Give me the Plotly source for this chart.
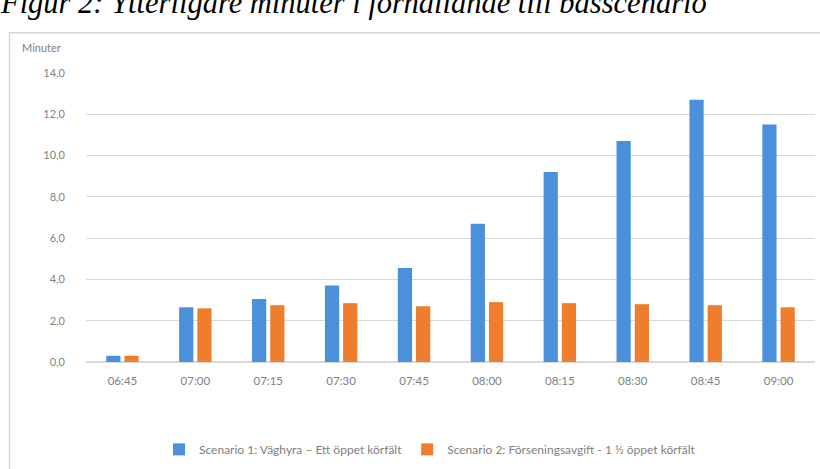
import plotly.graph_objects as go

categories = ["06:45", "07:00", "07:15", "07:30", "07:45", "08:00", "08:15", "08:30", "08:45", "09:00"]
scenario1 = [0.3, 2.65, 3.05, 3.7, 4.55, 6.7, 9.2, 10.7, 12.7, 11.5]
scenario2 = [0.3, 2.6, 2.75, 2.85, 2.7, 2.9, 2.85, 2.8, 2.75, 2.65]
name1 = "Scenario 1: Väghyra – Ett öppet körfält"
name2 = "Scenario 2: Förseningsavgift - 1 ½ öppet körfält"
yticks = [0, 2, 4, 6, 8, 10, 12, 14]
yticklabels = ["0,0", "2,0", "4,0", "6,0", "8,0", "10,0", "12,0", "14,0"]
title = "Figur 2: Ytterligare minuter i förhållande till basscenario"

font = "Lato, Open Sans, sans-serif"
fig = go.Figure()
fig.add_bar(x=categories, y=scenario1, name=name1, marker_color="#4A90DA", marker_line_width=0)
fig.add_bar(x=categories, y=scenario2, name=name2, marker_color="#EE7D2E", marker_line_width=0)

L, R, T, B = 86, 5, 73, 105
W, H = 820, 469
pw, ph = W - L - R, H - T - B
def px(x): return (x - L) / pw
def py(y): return (H - B - y) / ph

fig.update_layout(
    width=W, height=H,
    margin=dict(l=L, r=R, t=T, b=B),
    paper_bgcolor="white", plot_bgcolor="white",
    barmode="group", bargap=0.5, bargroupgap=0.22,
    font=dict(family=font, size=11, color="#7F7F7F"),
    showlegend=True,
    legend=dict(orientation="h", x=px(430), xanchor="center", y=py(452), yanchor="middle",
                font=dict(size=12, color="#7F7F7F"), itemwidth=30, tracegroupgap=0),
    xaxis=dict(showgrid=False, showline=False, ticks="", ticklabelstandoff=10,
               tickfont=dict(size=11.5, color="#7F7F7F")),
    yaxis=dict(range=[0, 14], tickvals=yticks, ticktext=yticklabels, showgrid=True,
               gridcolor="#D9D9D9", gridwidth=1, zeroline=True, zerolinecolor="#D9D9D9",
               showline=False, ticks="", ticklabelstandoff=20, tickfont=dict(size=11, color="#7F7F7F")),
)
fig.add_annotation(text="Minuter", xref="paper", yref="paper", x=px(20), y=py(47),
                   xanchor="left", yanchor="middle", showarrow=False,
                   font=dict(size=11, color="#7F7F7F", family=font))
fig.add_annotation(text="<i>" + title + "</i>", xref="paper", yref="paper", x=px(-2), y=py(22),
                   xanchor="left", yanchor="bottom", showarrow=False,
                   font=dict(size=30.5, color="black", family="Liberation Serif, serif"))
fig.add_shape(type="rect", xref="paper", yref="paper", x0=px(9.5), x1=px(830), y0=py(480), y1=py(32.5),
              line=dict(color="#D6D6D6", width=1.5), layer="below")
fig.write_html("out.html")
